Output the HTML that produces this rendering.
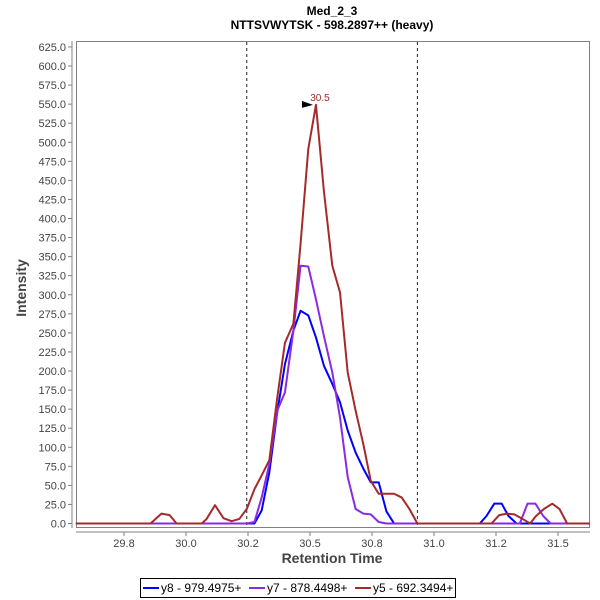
<!DOCTYPE html>
<html><head><meta charset="utf-8"><style>
body{margin:0;background:#fff;font-family:"Liberation Sans",sans-serif}
</style></head><body>
<svg id="chart" width="600" height="600" xmlns="http://www.w3.org/2000/svg" style="display:block">
<rect width="600" height="600" fill="#fff"/>
<text x="332" y="15" text-anchor="middle" font-size="12" font-weight="bold">Med_2_3</text>
<text x="332" y="29" text-anchor="middle" font-size="12" font-weight="bold">NTTSVWYTSK - 598.2897++ (heavy)</text>
<rect x="76.5" y="41.5" width="513" height="486" fill="#fff" stroke="#808080"/>
<line x1="72" y1="41" x2="72" y2="528" stroke="#808080"/>
<line x1="76" y1="532" x2="590" y2="532" stroke="#808080"/>
<g id="yticks"></g><g id="xticks"></g><g id="series"></g>
<text transform="translate(26,288) rotate(-90)" text-anchor="middle" font-size="14" font-weight="bold" fill="#444">Intensity</text>
<text x="332" y="563" text-anchor="middle" font-size="14" font-weight="bold" fill="#444">Retention Time</text>
<g>
<rect x="140.5" y="578.5" width="315" height="19" fill="#fff" stroke="#000"/>
<line x1="143" y1="588" x2="159" y2="588" stroke="#0000ff" stroke-width="2"/>
<text x="161" y="592" font-size="12">y8 - 979.4975+</text>
<line x1="249" y1="588" x2="265" y2="588" stroke="#8a2be2" stroke-width="2"/>
<text x="267" y="592" font-size="12">y7 - 878.4498+</text>
<line x1="355" y1="588" x2="371" y2="588" stroke="#a52a2a" stroke-width="2"/>
<text x="373" y="592" font-size="12">y5 - 692.3494+</text>
</g>
</svg>
<script>
const yTicks=[0,25,50,75,100,125,150,175,200,225,250,275,300,325,350,375,400,425,450,475,500,525,550,575,600,625];
const xTicks=[29.75,30.0,30.25,30.5,30.75,31.0,31.25,31.5];
const xTickLabels=["29.8","30.0","30.2","30.5","30.8","31.0","31.2","31.5"];
const boundaries=[30.245,30.933];
const y8Times=[29.556,30.276,30.305,30.336,30.368,30.399,30.433,30.462,30.493,30.524,30.556,30.590,30.621,30.652,30.684,30.715,30.745,30.777,30.808,30.839,30.870,31.185,31.212,31.243,31.273,31.300,31.333,31.629];
const y8Values=[0,0,17,67,146,209,253,279,273,244,207,183,159,122,93,72,54,54,16,0,0,0,10,26,26,10,0,0];
const y7Times=[29.556,30.245,30.276,30.305,30.336,30.368,30.399,30.433,30.462,30.493,30.524,30.556,30.590,30.621,30.652,30.684,30.715,30.745,30.777,30.808,30.839,31.346,31.377,31.409,31.440,31.470,31.629];
const y7Values=[0,0,2,34,78,148,172,253,338,337,294,246,198,139,61,19,13,12,2,0,0,0,26,26,10,0,0];
const y5Times=[29.556,29.857,29.901,29.934,29.962,30.064,30.083,30.117,30.151,30.184,30.215,30.245,30.276,30.305,30.336,30.368,30.399,30.433,30.462,30.493,30.524,30.556,30.590,30.621,30.652,30.684,30.715,30.745,30.777,30.808,30.839,30.870,30.901,30.933,31.232,31.263,31.294,31.324,31.357,31.388,31.409,31.443,31.477,31.506,31.537,31.629];
const y5Values=[0,0,13,11,0,0,6,24,7,3,6,19,45,63,83,165,237,262,367,491,549,436,338,303,198,148,104,56,39,39,39,34,19,0,0,11,13,12,6,0,9,19,26,19,0,0];
const peakTime=30.524, peakValue=549, peakLabel="30.5";
const NS="http://www.w3.org/2000/svg";
const X=t=>186+(t-30)*248;
const Y=v=>523.5-v*0.7625;
function mk(tag,attrs,parent){const e=document.createElementNS(NS,tag);for(const k in attrs)e.setAttribute(k,attrs[k]);parent.appendChild(e);return e;}
const yg=document.getElementById('yticks');
yTicks.forEach(v=>{
  const l=mk('line',{x1:68,x2:72,y1:Y(v),y2:Y(v),stroke:'#808080'},yg);
  
  
  const t=mk('text',{x:66,y:Y(v)+4,'text-anchor':'end','font-size':11,fill:'#444'},yg);
  
  
  t.textContent=v.toFixed(1);
});
const xg=document.getElementById('xticks');
xTicks.forEach((v,i)=>{
  const l=mk('line',{x1:X(v),x2:X(v),y1:532,y2:536,stroke:'#808080'},xg);
  
  
  const t=mk('text',{x:X(v),y:547,'text-anchor':'middle','font-size':11,fill:'#444'},xg);
  
  
  t.textContent=xTickLabels[i];
});
const sg=document.getElementById('series');
boundaries.forEach(b=>{
  const l=mk('line',{x1:X(b),x2:X(b),y1:42,y2:527,stroke:'#222','stroke-dasharray':'3,3'},sg);
  
  
});
function series(ts,vs,color,name){
  const p=mk('polyline',{points:ts.map((t,i)=>X(t)+','+Y(vs[i])).join(' '),fill:'none',stroke:color,'stroke-width':2,'stroke-linejoin':'round'},sg);
  
  
}
series(y8Times,y8Values,'#0000ff','series-y8');
series(y7Times,y7Values,'#8a2be2','series-y7');
series(y5Times,y5Values,'#a52a2a','series-y5');
const px=X(peakTime),py=Y(peakValue);
const m=mk('polygon',{points:(px-14)+','+(py-4)+' '+(px-3)+','+py+' '+(px-14)+','+(py+3),fill:'#000'},sg);


const pl=mk('text',{x:px+4,y:py-4,'text-anchor':'middle','font-size':10,fill:'#a52a2a'},sg);


pl.textContent=peakLabel;
</script>
</body></html>
